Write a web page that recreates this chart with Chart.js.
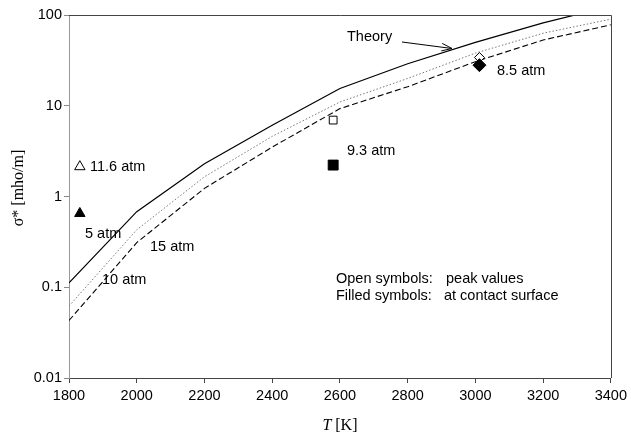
<!DOCTYPE html>
<html>
<head>
<meta charset="utf-8">
<script src="https://cdn.jsdelivr.net/npm/chart.js@4.4.1/dist/chart.umd.min.js"></script>
<style>
  html, body { margin: 0; padding: 0; background: #fff; }
</style>
</head>
<body>
<canvas id="chart" width="631" height="434"></canvas>
<script>
// Theory curves: conductivity vs temperature for three pressures
const temperatures = [1800, 2000, 2200, 2400, 2600, 2800, 3000, 3200, 3400];
const sigma5atm  = [0.112, 0.68, 2.3, 6.1, 15.5, 29, 50, 82, 125];
const sigma10atm = [0.062, 0.43, 1.65, 4.6, 11, 20, 38, 63, 90];
const sigma15atm = [0.043, 0.31, 1.23, 3.5, 9.3, 16.2, 30.6, 53, 78];

// Measured points (open = peak values, filled = at contact surface)
const peakT = [1832, 2580, 3012];
const peakSigma = [2.13, 6.95, 34];
const contactT = [1832, 2580, 3012];
const contactSigma = [0.65, 2.22, 28];
const markerShapes = ['triangle', 'rect', 'rectRot'];

const xTicks = [1800, 2000, 2200, 2400, 2600, 2800, 3000, 3200, 3400];
const yTicks = [0.01, 0.1, 1, 10, 100];

const SANS = '"Liberation Sans", Arial, sans-serif';
const SERIF = '"Liberation Serif", "Times New Roman", serif';

function toPoints(xs, ys) {
    return xs.map((x, i) => ({ x: x, y: ys[i] }));
}

// Text labels, axis titles, frame and the "Theory" arrow
const decorations = {
    id: 'decorations',
    afterDraw(chart) {
        const ctx = chart.ctx;
        const a = chart.chartArea;
        ctx.save();

        // top and right frame lines
        ctx.strokeStyle = '#444';
        ctx.lineWidth = 1;
        ctx.beginPath();
        ctx.moveTo(a.left, Math.round(a.top) + 0.5);
        ctx.lineTo(Math.round(a.right) + 0.5, Math.round(a.top) + 0.5);
        ctx.lineTo(Math.round(a.right) + 0.5, a.bottom);
        ctx.stroke();

        ctx.fillStyle = '#000';
        ctx.font = '14.5px ' + SANS;
        ctx.textAlign = 'left';
        ctx.textBaseline = 'middle';
        const labels = [
            ['11.6 atm', 90, 167],
            ['5 atm', 85, 234],
            ['15 atm', 150, 247],
            ['10 atm', 102, 280],
            ['9.3 atm', 347, 151],
            ['8.5 atm', 497, 71],
            ['Theory', 347, 37],
            ['Open symbols:', 336, 279],
            ['peak values', 446, 279],
            ['Filled symbols:', 336, 296],
            ['at contact surface', 444, 296]
        ];
        labels.forEach(l => ctx.fillText(l[0], l[1], l[2]));

        // arrow pointing at the theory curve
        const x0 = 402, y0 = 42, x1 = 452, y1 = 48.5;
        const ang = Math.atan2(y1 - y0, x1 - x0);
        ctx.strokeStyle = '#000';
        ctx.lineWidth = 1;
        ctx.beginPath();
        ctx.moveTo(x0, y0);
        ctx.lineTo(x1, y1);
        ctx.moveTo(x1 - 11 * Math.cos(ang - 0.35), y1 - 11 * Math.sin(ang - 0.35));
        ctx.lineTo(x1, y1);
        ctx.lineTo(x1 - 11 * Math.cos(ang + 0.35), y1 - 11 * Math.sin(ang + 0.35));
        ctx.stroke();

        // y axis title
        ctx.save();
        ctx.translate(19, 188);
        ctx.rotate(-Math.PI / 2);
        ctx.textAlign = 'center';
        ctx.font = '16px ' + SERIF;
        ctx.fillText('\u03c3* [mho/m]', 0, 0);
        ctx.restore();

        // x axis title, italic T
        ctx.font = 'italic 16px ' + SERIF;
        const wT = ctx.measureText('T').width;
        ctx.font = '16px ' + SERIF;
        const wRest = ctx.measureText(' [K]').width;
        const startX = (a.left + a.right) / 2 - (wT + wRest) / 2;
        ctx.textAlign = 'left';
        ctx.font = 'italic 16px ' + SERIF;
        ctx.fillText('T', startX, 426);
        ctx.font = '16px ' + SERIF;
        ctx.fillText(' [K]', startX + wT, 426);

        ctx.restore();
    }
};

const ctx = document.getElementById('chart').getContext('2d');

const chart = new Chart(ctx, {
    type: 'scatter',
    data: {
        datasets: [
            {
                label: 'at contact surface',
                data: toPoints(contactT, contactSigma),
                pointStyle: markerShapes,
                pointRadius: [6, 7, 6.5],
                backgroundColor: '#000',
                borderColor: '#000',
                borderWidth: 1,
                order: 0
            },
            {
                label: 'peak values',
                data: toPoints(peakT, peakSigma),
                pointStyle: markerShapes,
                pointRadius: [6, 5.5, 5],
                backgroundColor: '#fff',
                borderColor: '#000',
                borderWidth: 1,
                order: 1
            },
            {
                label: '5 atm',
                data: toPoints(temperatures, sigma5atm),
                showLine: true,
                pointRadius: 0,
                borderColor: '#000',
                borderWidth: 1.2,
                order: 2
            },
            {
                label: '10 atm',
                data: toPoints(temperatures, sigma10atm),
                showLine: true,
                pointRadius: 0,
                borderColor: '#777',
                borderWidth: 1,
                borderDash: [1.5, 2],
                order: 3
            },
            {
                label: '15 atm',
                data: toPoints(temperatures, sigma15atm),
                showLine: true,
                pointRadius: 0,
                borderColor: '#000',
                borderWidth: 1.1,
                borderDash: [6, 3],
                order: 4
            }
        ]
    },
    options: {
        responsive: false,
        animation: false,
        events: [],
        layout: { padding: { top: 15, right: 18, left: 0, bottom: 0 } },
        plugins: {
            legend: { display: false },
            tooltip: { enabled: false }
        },
        scales: {
            x: {
                type: 'linear',
                min: 1800,
                max: 3400,
                afterBuildTicks: s => { s.ticks = xTicks.map(v => ({ value: v })); },
                afterFit: s => { s.height = 56; },
                ticks: {
                    callback: v => String(v),
                    color: '#000',
                    font: { family: SANS, size: 14.5 },
                    padding: 4,
                    maxRotation: 0
                },
                grid: { drawOnChartArea: false, tickLength: 5, tickColor: '#444' },
                border: { display: true, color: '#444' }
            },
            y: {
                type: 'logarithmic',
                min: 0.01,
                max: 100,
                afterBuildTicks: s => { s.ticks = yTicks.map(v => ({ value: v })); },
                afterFit: s => { s.width = 69; },
                ticks: {
                    callback: v => String(v),
                    color: '#000',
                    font: { family: SANS, size: 14.5 },
                    padding: 2
                },
                grid: { drawOnChartArea: false, tickLength: 5, tickColor: '#888' },
                border: { display: true, color: '#999' }
            }
        }
    },
    plugins: [decorations]
});
</script>
</body>
</html>
